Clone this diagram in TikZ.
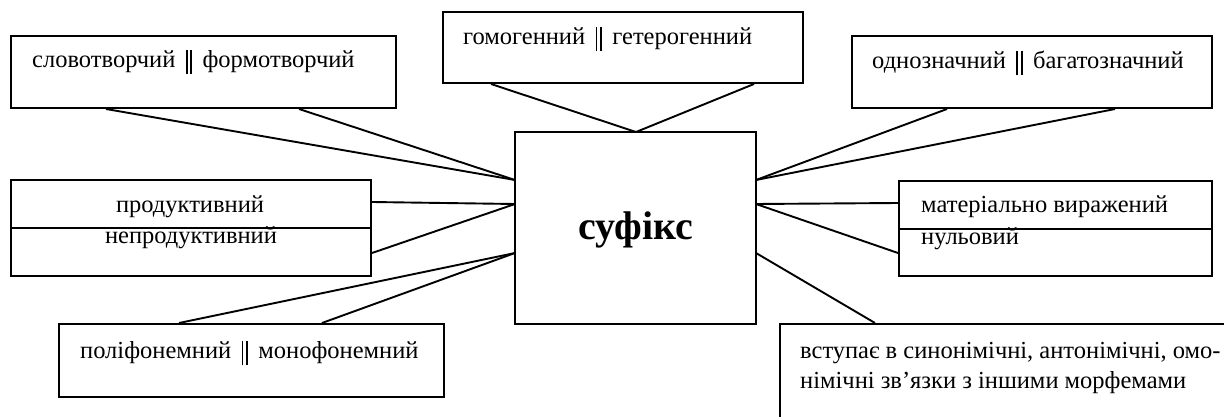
\documentclass[tikz,border=0pt]{standalone}
\usepackage{fontspec}
\setmainfont{Liberation Serif}
\newcommand{\dvbar}{\hspace{0.42em}\rule[-0.26em]{0.075em}{1.0em}\kern0.12em\rule[-0.26em]{0.075em}{1.0em}\hspace{0.42em}}
\begin{document}
\begin{tikzpicture}[x=1pt,y=-1pt,
  box/.style={draw,line width=2pt,rectangle,inner sep=0pt},
  link/.style={draw,line width=1.9pt},
  lbl/.style={inner sep=0pt,anchor=west,font=\fontsize{24.5}{30}\selectfont}]
\useasboundingbox (0,0) rectangle (1224,417);
\clip (0,0) rectangle (1224,417);

% central box
\node[box,minimum width=241pt,minimum height=192pt] (c) at (635.5,228) {};
\node[inner sep=0pt,font=\fontsize{40}{44}\selectfont\bfseries] (ct) at (636,230) {суфікс};

% attachment points on the central box
\coordinate (cl1) at (515,180);
\coordinate (cl2) at (515,204);
\coordinate (cl3) at (515,253);
\coordinate (cr1) at (756,180);
\coordinate (cr2) at (756,204);
\coordinate (cr3) at (756,253);
\coordinate (ctop) at (636,132);

% surrounding boxes
\node[box,minimum width=385pt,minimum height=72pt] (b1) at (203.5,72) {};
\node[box,minimum width=360pt,minimum height=71pt] (b2) at (623,47.5) {};
\node[box,minimum width=360pt,minimum height=72pt] (b3) at (1032,72) {};
\node[box,minimum width=360pt,minimum height=96pt] (b4) at (191,228) {};
\node[box,minimum width=385pt,minimum height=73pt] (b5) at (251.5,360.5) {};
\node[box,minimum width=313pt,minimum height=95pt] (b6) at (1055.5,228.5) {};
\node[box,minimum width=500pt,minimum height=160pt] (b7) at (1030,404) {};

% dividers of the two-part boxes
\draw[line width=2pt] (b4.west) -- (b4.east);
\draw[line width=2pt] (b6.west) -- (b6.east);

% labels
\node[lbl] (t1) at (32,62) {словотворчий\dvbar формотворчий};
\node[lbl] (t2) at (463,39) {гомогенний\dvbar гетерогенний};
\node[lbl] (t3) at (872,63) {однозначний\dvbar багатозначний};
\node[lbl,anchor=center] (t4a) at (190,207) {продуктивний};
\node[lbl,anchor=center] (t4b) at (191,238) {непродуктивний};
\node[lbl] (t5) at (80,353) {поліфонемний\dvbar монофонемний};
\node[lbl] (t6a) at (921,207) {матеріально виражений};
\node[lbl] (t6b) at (921,239) {нульовий};
\node[lbl] (t7a) at (800,353) {вступає в синонімічні, антонімічні, омо-};
\node[lbl] (t7b) at (800,383) {німічні зв’язки з іншими морфемами};

% connectors
\draw[link] ([xshift=96pt]b1.south west) -- (cl1);
\draw[link] ([xshift=289pt]b1.south west) -- (cl1);
\draw[link] ([xshift=49pt]b2.south west) -- (ctop);
\draw[link] ([xshift=312pt]b2.south west) -- (ctop);
\draw[link] ([xshift=96pt]b3.south west) -- (cr1);
\draw[link] ([xshift=264pt]b3.south west) -- (cr1);
\draw[link] ([yshift=-23pt]b4.north east) -- (cl2);
\draw[link] ([yshift=24pt]b4.south east) -- (cl2);
\draw[link] ([xshift=121pt]b5.north west) -- (cl3);
\draw[link] ([xshift=264pt]b5.north west) -- (cl3);
\draw[link] ([yshift=-23pt]b6.north west) -- (cr2);
\draw[link] ([yshift=24pt]b6.south west) -- (cr2);
\draw[link] ([xshift=96pt]b7.north west) -- (cr3);
\end{tikzpicture}
\end{document}
